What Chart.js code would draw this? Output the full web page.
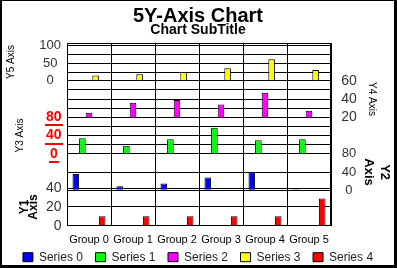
<!DOCTYPE html>
<html lang="en">

<head>
    <meta charset="UTF-8">
    <title>5Y-Axis Chart</title>
    <script src="https://cdn.jsdelivr.net/npm/chart.js@4.4.1/dist/chart.umd.min.js"></script>
    <style>
        body { margin: 0; background: #fff; }
        #frame {
            width: 397px; height: 268px; box-sizing: border-box;
            border-style: solid; border-color: #000; border-width: 1px 3px 3px 2px;
        }
        canvas { display: block; }
    </style>
</head>

<body>
    <div id="frame"><canvas id="myChart" width="392" height="264"></canvas></div>

    <script>
        // categories and series (one series per y axis band)
        var groups = ['Group 0', 'Group 1', 'Group 2', 'Group 3', 'Group 4', 'Group 5'];
        var series0 = [36, 9, 15, 28, 40, 2];     // Y2 axis
        var series1 = [34, 18, 32, 57, 30, 32];   // Y3 axis
        var series2 = [25, 36, 39, 34, 47, 27];   // Y4 axis
        var series3 = [15, 19, 25, 36, 62, 31];   // Y5 axis
        var series4 = [10, 10, 10, 10, 10, 29];   // Y1 axis

        // tick labels per axis, and the grid lines each axis draws
        var y1Labels = [0, 20, 40];
        var y2Labels = [0, 40, 80];
        var y3Labels = [0, 40, 80];
        var y4Labels = [20, 40, 60];
        var y5Labels = [0, 50, 100];
        var y1Grid = [0, 20, 40];
        var y2Grid = [0, 40, 80];
        var y3Grid = [0, 20, 40, 60, 80];
        var y4Grid = [20, 30, 40, 50, 60];
        var y5Grid = [0, 25, 50, 75, 100];

        var FONT = "'Liberation Sans', Arial, sans-serif";
        Chart.defaults.font.family = FONT;

        // one band of the stacked value axes
        function f_band(p) {
            var side = p.position;
            return {
                type: 'linear',
                position: side,
                stack: 'bands',
                stackWeight: p.stackWeight,
                weight: p.order,
                min: p.min,
                max: p.max,
                beginAtZero: false,
                grid: { color: '#000', lineWidth: 1, drawTicks: false },
                border: { display: false },
                afterBuildTicks: function (scale) {
                    scale.ticks = p.grid.map(function (v) { return { value: v }; });
                },
                afterFit: function (scale) {
                    scale.width = side === 'left' ? 65 : 63;
                },
                ticks: {
                    autoSkip: false,
                    crossAlign: p.crossAlign,
                    padding: p.padding,
                    color: p.color || '#333',
                    font: p.font,
                    callback: function (value) {
                        return p.labels.indexOf(value) >= 0 ? String(value) : '';
                    }
                },
                title: p.title
            };
        }

        function f_spacer(side, order, w) {
            return { type: 'linear', position: side, stack: 'bands', stackWeight: w, weight: order, display: false };
        }

        // frame around the plot area, underline under the red Y3 labels
        var framePlugin = {
            id: 'frame',
            afterLayout: function (chart) {
                // pull the legend row up closer to the group labels
                chart.legend.top -= 9;
                chart.legend.bottom -= 9;
            },
            afterDraw: function (chart) {
                var ctx = chart.ctx;
                var a = chart.chartArea;
                ctx.save();
                ctx.strokeStyle = '#000';
                ctx.lineWidth = 1;
                ctx.strokeRect(Math.round(a.left) + 0.5, Math.round(a.top) + 0.5,
                    Math.round(a.right - a.left) - 1, Math.round(a.bottom - a.top) - 1);

                var s = chart.scales.y3;
                ctx.font = 'bold 14px ' + FONT;
                var widest = 0;
                s.ticks.forEach(function (t) { if (t.label) widest = Math.max(widest, ctx.measureText(t.label).width); });
                var cx = s.right - s.options.ticks.padding - widest / 2;
                ctx.fillStyle = '#f00';
                s.ticks.forEach(function (t) {
                    if (!t.label) return;
                    var w = ctx.measureText(t.label).width + 2;
                    var y = Math.round(s.getPixelForValue(t.value));
                    ctx.fillRect(Math.round(cx - w / 2), y + 7, Math.round(w), 2);
                });
                ctx.restore();
            }
        };

        const ctx = document.getElementById('myChart').getContext('2d');
        const myChart = new Chart(ctx, {
            type: 'bar',
            data: {
                labels: groups,
                datasets: [
                    { label: 'Series 0', data: series0, yAxisID: 'y2', backgroundColor: '#0000ff' },
                    { label: 'Series 1', data: series1, yAxisID: 'y3', backgroundColor: '#00ff00' },
                    { label: 'Series 2', data: series2, yAxisID: 'y4', backgroundColor: '#ff00ff' },
                    { label: 'Series 3', data: series3, yAxisID: 'y5', backgroundColor: '#ffff00' },
                    { label: 'Series 4', data: series4, yAxisID: 'y1', backgroundColor: '#ff0000' }
                ]
            },
            plugins: [framePlugin],
            options: {
                responsive: false,
                animation: false,
                layout: { padding: { top: 0, left: 0, right: 0, bottom: -17.2 } },
                datasets: {
                    bar: {
                        borderColor: '#000',
                        borderWidth: 1,
                        barPercentage: 1,
                        categoryPercentage: 0.75
                    }
                },
                plugins: {
                    title: {
                        display: true,
                        text: '5Y-Axis Chart',
                        color: '#000',
                        font: { size: 20, weight: 'bold', lineHeight: 0.8 },
                        padding: { top: 7, bottom: 0 }
                    },
                    subtitle: {
                        display: true,
                        text: 'Chart SubTitle',
                        color: '#000',
                        font: { size: 14, weight: 'bold', lineHeight: 0.9 },
                        padding: { top: 0, bottom: 6.5 }
                    },
                    legend: {
                        position: 'bottom',
                        labels: {
                            boxWidth: 10,
                            boxHeight: 9,
                            padding: 12.5,
                            color: '#222',
                            font: { size: 12 }
                        }
                    },
                    tooltip: { enabled: false }
                },
                scales: {
                    x: {
                        type: 'category',
                        position: 'bottom',
                        grid: { color: '#000', offset: true, drawTicks: false },
                        border: { display: false },
                        ticks: { color: '#000', padding: 8, font: { size: 11 }, maxRotation: 0, minRotation: 0, autoSkip: false },
                        afterFit: function (scale) {
                            scale.height = 22;
                        }
                    },
                    // left column, top to bottom
                    y5: f_band({
                        position: 'left', order: 5, stackWeight: 37.7, min: 0, max: 108,
                        grid: y5Grid, labels: y5Labels, crossAlign: 'center', padding: 6,
                        font: { size: 13 },
                        title: { display: true, text: 'Y5 Axis', color: '#000', font: { size: 10 }, padding: { top: 3.7, bottom: 0 } }
                    }),
                    sL4: f_spacer('left', 4, 36.3),
                    y3: f_band({
                        position: 'left', order: 3, stackWeight: 36.7, min: 0, max: 80,
                        grid: y3Grid, labels: y3Labels, crossAlign: 'center', padding: 5.4, color: '#f00',
                        font: { size: 14, weight: 'bold' },
                        title: { display: true, text: 'Y3 Axis', color: '#000', font: { size: 10 }, padding: { top: 12, bottom: 0 } }
                    }),
                    sL2: f_spacer('left', 2, 34.3),
                    y1: f_band({
                        position: 'left', order: 1, stackWeight: 37.4, min: 0, max: 40,
                        grid: y1Grid, labels: y1Labels, crossAlign: 'near', padding: 5.5,
                        font: { size: 14 },
                        title: { display: true, text: ['Y1', 'Axis'], color: '#000', font: { size: 12, weight: 'bold', lineHeight: 0.75 }, padding: { top: 18.5, bottom: 0 } }
                    }),
                    // right column, top to bottom
                    sR5: f_spacer('right', 1, 37.7),
                    y4: f_band({
                        position: 'right', order: 2, stackWeight: 36.3, min: 20, max: 60,
                        grid: y4Grid, labels: y4Labels, crossAlign: 'center', padding: 10.2,
                        font: { size: 14 },
                        title: { display: true, text: 'Y4 Axis', color: '#000', font: { size: 10 }, padding: { top: 16, bottom: 0 } }
                    }),
                    sR3: f_spacer('right', 3, 36.7),
                    y2: f_band({
                        position: 'right', order: 4, stackWeight: 36.3, min: 0, max: 80,
                        grid: y2Grid, labels: y2Labels, crossAlign: 'center', padding: 10.75,
                        font: { size: 13 },
                        title: { display: true, text: ['Y2', 'Axis'], color: '#000', font: { size: 13, weight: 'bold', lineHeight: 1.23 }, padding: { top: 1, bottom: 0 } }
                    }),
                    sR1: f_spacer('right', 5, 35.4)
                }
            }
        });
    </script>
</body>

</html>
